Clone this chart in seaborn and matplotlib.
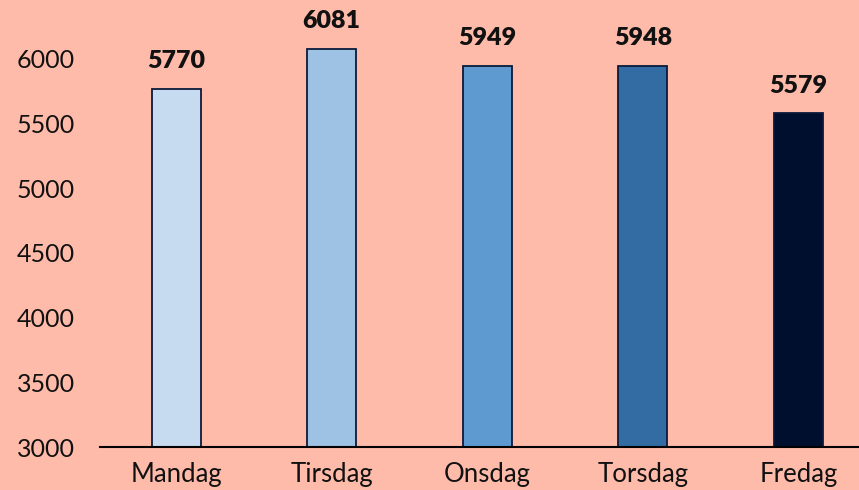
import matplotlib.pyplot as plt
import seaborn as sns
import pandas as pd

days = ["Mandag", "Tirsdag", "Onsdag", "Torsdag", "Fredag"]
values = [5770, 6081, 5949, 5948, 5579]
colors = ["#c6dbef", "#9ec2e3", "#5e9ad0", "#336ca3", "#000f2e"]

bg = "#ffbbaa"
sns.set_style("white")
plt.rcParams["font.family"] = ["Lato", "DejaVu Sans"]

df = pd.DataFrame({"day": days, "value": values})

fig = plt.figure(figsize=(8.59, 4.9), dpi=100, facecolor=bg)
ax = fig.add_axes([100 / 859, 43 / 490, 759 / 859, 447 / 490])
ax.set_facecolor(bg)

sns.barplot(data=df, x="day", y="value", hue="day", palette=colors, legend=False,
            saturation=1, width=0.315, edgecolor="#0b1a3a", linewidth=1.3, ax=ax)

for i, v in enumerate(values):
    ax.annotate(str(v), (i, v), xytext=(0, 12), textcoords="offset points",
                ha="center", va="bottom", fontsize=18, fontweight="heavy", color="#111111")

ax.set_ylim(3000, 6456)
ax.set_xlim(-0.49, 4.39)
ax.set_yticks([3000, 3500, 4000, 4500, 5000, 5500, 6000])
ax.set_xlabel("")
ax.set_ylabel("")
ax.tick_params(axis="y", labelsize=18, length=0, pad=18, labelcolor="#111111")
ax.tick_params(axis="x", labelsize=18.5, length=0, pad=11, labelcolor="#111111")
sns.despine(ax=ax, left=True, right=True, top=True)
ax.spines["bottom"].set_color("black")
ax.spines["bottom"].set_linewidth(1.5)

fig.savefig("out.png", dpi=100, facecolor=bg)
